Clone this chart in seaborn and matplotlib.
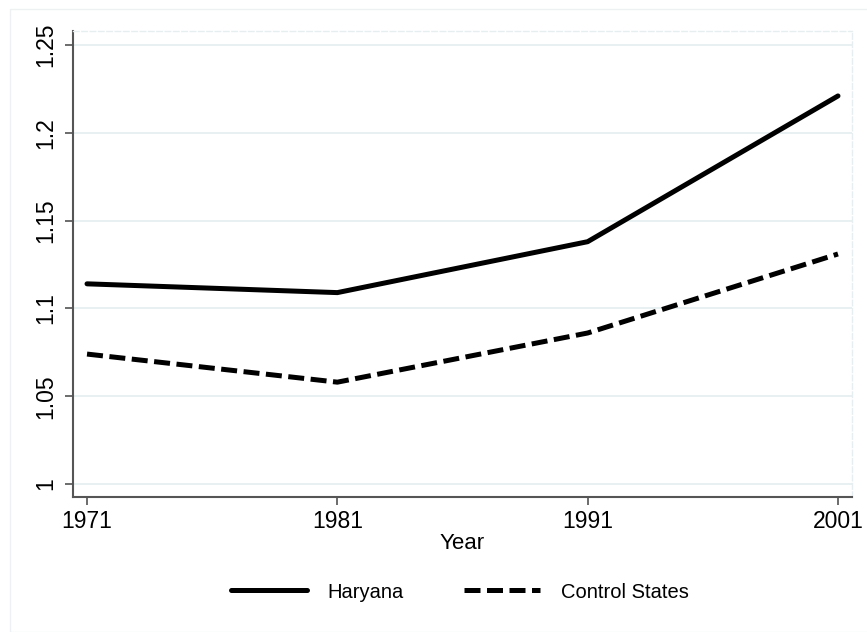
import pandas as pd
import matplotlib
matplotlib.use('Agg')
import matplotlib.pyplot as plt
from matplotlib.patches import Rectangle
import seaborn as sns

# Values
years = [1971, 1981, 1991, 2001]
haryana = [1.114, 1.109, 1.138, 1.221]
control = [1.074, 1.058, 1.086, 1.131]
yticks = [1, 1.05, 1.1, 1.15, 1.2, 1.25]

data = pd.DataFrame({
    'Year': years * 2,
    'value': haryana + control,
    'group': ['Haryana'] * 4 + ['Control States'] * 4,
})

sns.set_style('white')
plt.rcParams['font.family'] = ['Liberation Sans', 'DejaVu Sans']
plt.rcParams['text.color'] = 'black'
plt.rcParams['axes.labelcolor'] = 'black'

fig = plt.figure(figsize=(8.67, 6.32), dpi=100)
ax = fig.add_axes([0.0842, 0.2136, 0.8985, 0.7374])

# faint outer frame like the Stata graph region
fig.patches.append(Rectangle((10 / 867, 0.0), 1.0, 1 - 9 / 632, transform=fig.transFigure,
                             fill=False, edgecolor='#edf1f2', lw=1))

sns.lineplot(data=data, x='Year', y='value', style='group',
             style_order=['Haryana', 'Control States'],
             dashes={'Haryana': '', 'Control States': (3.2, 1.3)},
             color='black', linewidth=3.6, ax=ax, legend=False)

ax.set_xlim(1970.44, 2001.56)
ax.set_ylim(0.9926, 1.258)
ax.set_xticks(years)
ax.set_yticks(yticks)
ax.set_yticklabels([f'{v:g}' for v in yticks], rotation=90, va='center')
for lab in ax.get_xticklabels() + ax.get_yticklabels():
    lab.set_fontsize(16.5)

ax.yaxis.grid(True, color='#e4eef0', lw=1.2)
ax.xaxis.grid(False)
ax.tick_params(axis='both', which='major', length=6, width=1.1, color='#444444',
               left=True, bottom=True, pad=5, labelcolor='black')
ax.tick_params(axis='x', pad=3)
for side in ['left', 'bottom']:
    ax.spines[side].set_color('#555555')
    ax.spines[side].set_linewidth(1.5)
for side in ['top', 'right']:
    ax.spines[side].set_color('#e6eef0')
    ax.spines[side].set_linewidth(1)
    ax.spines[side].set_linestyle((0, (4, 2)))

ax.set_xlabel('Year', fontsize=16, labelpad=0, color='black')
ax.set_ylabel('')

# legend below the plot
h1, = ax.plot([], [], color='black', lw=3.6)
h2, = ax.plot([], [], color='black', lw=3.6, dashes=(3.2, 1.3))
fig.legend([h1, h2], ['Haryana', 'Control States'], loc='center',
           bbox_to_anchor=(0.53, 1 - 592 / 632), ncol=2, frameon=False,
           fontsize=14.5, handlelength=3.8, handletextpad=1.0, columnspacing=3.0,
           labelcolor='black')

fig.savefig('out.png', dpi=100)
